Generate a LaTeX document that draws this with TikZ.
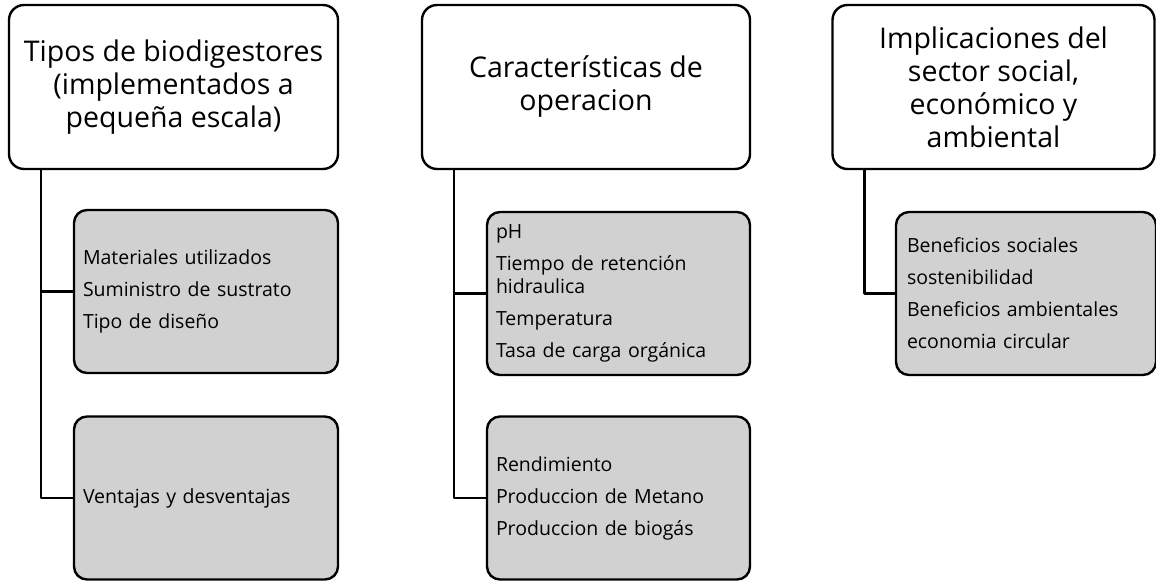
\documentclass[tikz,border=0pt]{standalone}
\usepackage{fontspec}
\setmainfont{Open Sans}
\usepackage{tikz}
\colorlet{mygray}{black!18}
\tikzset{>=latex}

\begin{document}
\begin{tikzpicture}[x=1pt, y=-1pt,
                line cap=round, line join=round,
                head/.style={draw, line width=2.4pt, rounded corners=15pt, fill=white,
                    minimum height=164pt, align=center,
                    font=\fontsize{28.5}{33}\selectfont},
                sub/.style={draw, line width=2.4pt, rounded corners=13pt, fill=mygray,
                    minimum height=163pt, inner xsep=9pt, align=left,
                    font=\fontsize{19.5}{32}\selectfont},
                link/.style={draw, line width=2.4pt, line cap=butt}]
                \def\dx{33pt} % offset of the trunk from the head's left edge
                \useasboundingbox (0,0) rectangle (1156,581);

                % heads
                \node[head, minimum width=329pt] (h1) at (173.5,87)
                    {Tipos de biodigestores\\(implementados a\\pequeña escala)};
                \node[head, minimum width=328pt] (h2) at (586,87)
                    {Características de\\operacion};
                \node[head, minimum width=322pt] (h3) at (993.5,87)
                    {Implicaciones del\\sector social,\\económico y\\ambiental};

                % sub boxes
                \node[sub, minimum width=264pt, text width=246pt] (c11) at (206,291.5)
                    {Materiales utilizados\\Suministro de sustrato\\Tipo de diseño};
                \node[sub, minimum width=264pt, text width=246pt] (c12) at (206,498)
                    {Ventajas y desventajas};
                \node[sub, minimum width=263pt, text width=245pt] (c21) at (618.5,293.5)
                    {pH\\Tiempo de retención\\[-9pt]hidraulica\\Temperatura\\Tasa de carga orgánica};
                \node[sub, minimum width=263pt, text width=245pt] (c22) at (618.5,498)
                    {Rendimiento\\Produccion de Metano\\Produccion de biogás};
                \node[sub, minimum width=258pt, text width=238pt, inner xsep=11pt] (c31) at (1026,293.5)
                    {Beneficios sociales\\sostenibilidad\\Beneficios ambientales\\economia circular};

                % trunks (drawn once) and upper branches
                \foreach \h/\c/\d in {h1/c11/c12, h2/c21/c22}{
                    \draw[link] ([xshift=\dx]\h.south west) |- (\d.west);
                    \draw[link] ([xshift=\dx]\h.south west |- \c.west) -- (\c.west);
                }
                \draw[link] ([xshift=\dx]h3.south west) |- (c31.west);

\end{tikzpicture}
\end{document}
